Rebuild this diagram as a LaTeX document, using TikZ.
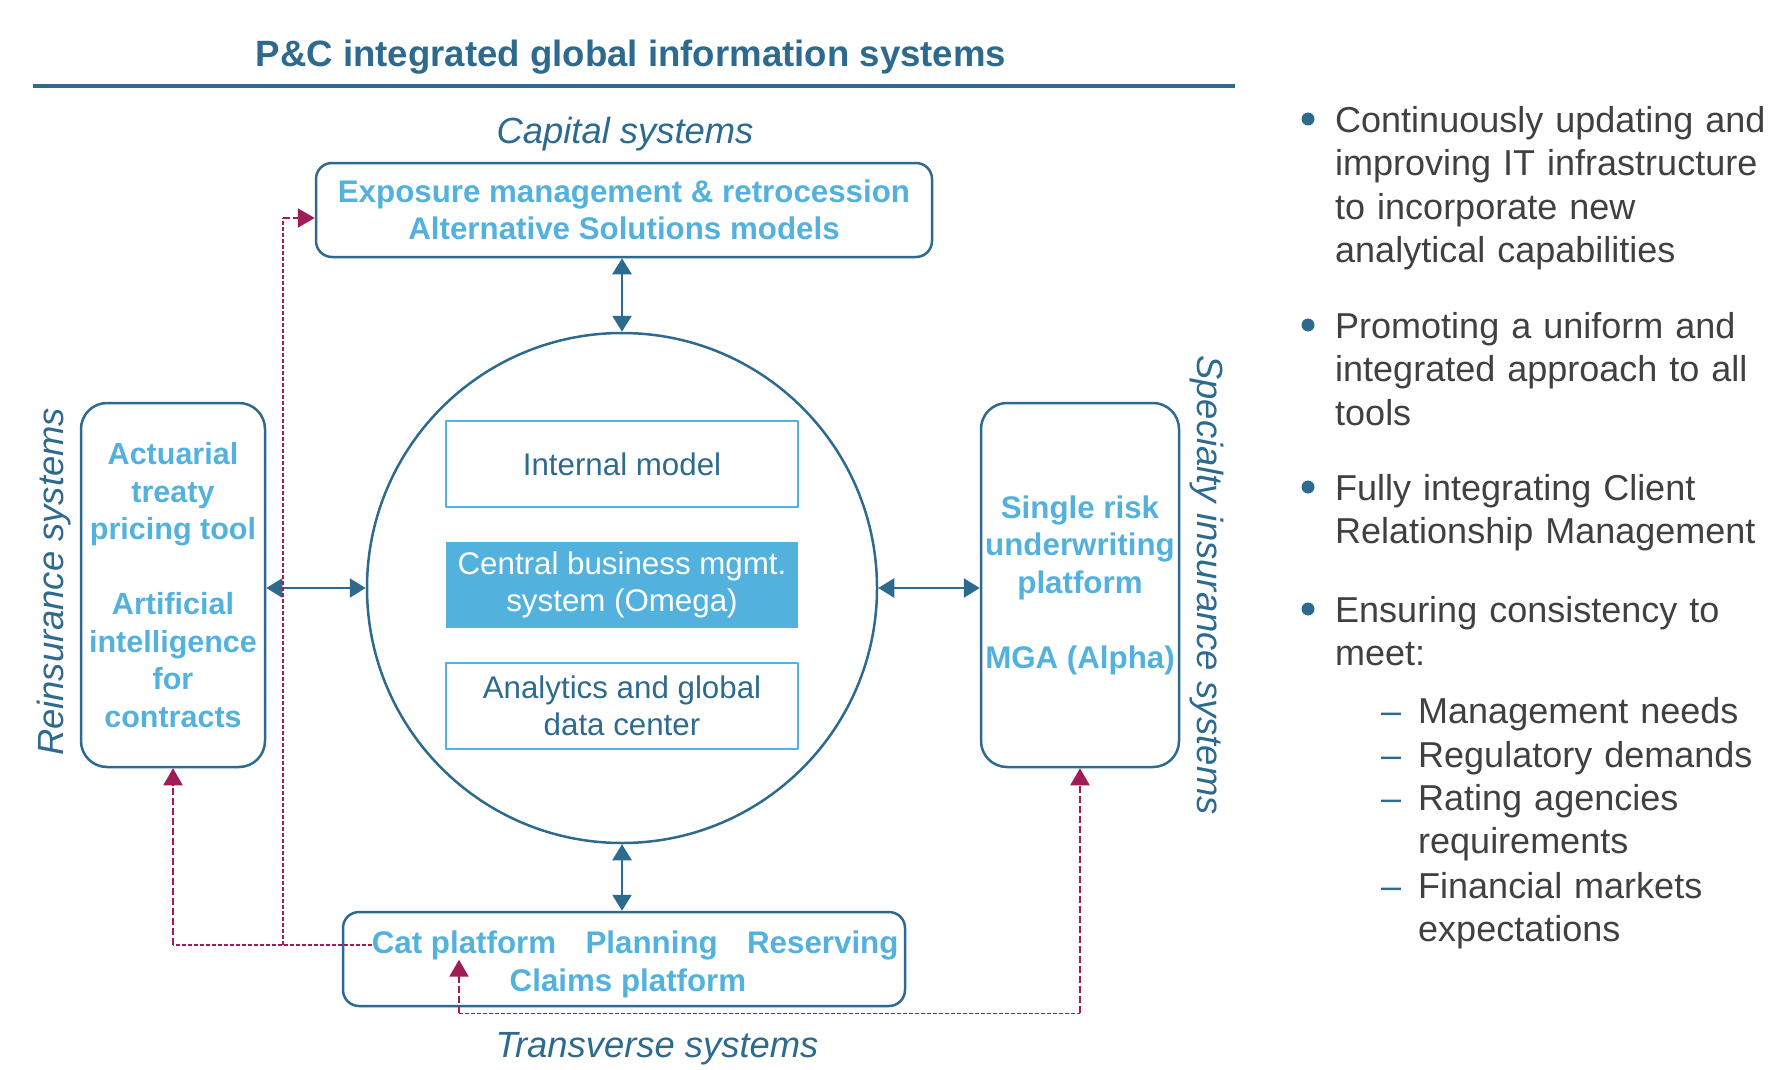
\documentclass[tikz,border=0pt]{standalone}
\usepackage{fontspec}
\setmainfont{Liberation Sans}
\usepackage{tikz}
\usetikzlibrary{arrows.meta, positioning}

\definecolor{PCteal}{RGB}{45,106,142}
\definecolor{PCsky}{RGB}{82,178,221}
\definecolor{PCgray}{RGB}{64,64,64}
\definecolor{PCred}{RGB}{160,28,86}

\tikzset{
  sysbox/.style={draw=PCteal, line width=2.5pt, rounded corners=16pt, inner sep=0pt},
  boxtext/.style={font=\bfseries\fontsize{31.3}{37.5}\selectfont, text=PCsky, align=center, inner sep=0pt},
  syslabel/.style={font=\itshape\fontsize{36.4}{44}\selectfont, text=PCteal, inner sep=0pt},
  modelbox/.style={draw=PCsky, line width=2pt, minimum width=352pt, minimum height=86pt, inner sep=0pt,
    outer sep=0pt, font=\fontsize{31.3}{37.5}\selectfont, text=PCteal, align=center},
  corebox/.style={modelbox, draw=none, fill=PCsky, text=white},
  duplex/.style={PCteal, line width=2.5pt, {Triangle[length=16pt,width=19pt]}-{Triangle[length=16pt,width=19pt]}},
  flowthick/.style={PCred, line width=2.2pt, dash pattern=on 7pt off 3pt, -{Triangle[length=17pt,width=19pt]}},
  flowthin/.style={PCred, line width=1.2pt, dash pattern=on 4pt off 2pt},
  item/.style={font=\fontsize{36}{43.6}\selectfont, text=PCgray, align=left, inner sep=0pt, text width=450pt},
  dot/.style={circle, fill=PCteal, inner sep=0pt, minimum size=13pt},
  subdash/.style={font=\fontsize{36}{43.6}\selectfont, text=PCteal, inner sep=0pt}
}

\begin{document}
\begin{tikzpicture}[x=1pt, y=-1pt, line join=bevel]
\useasboundingbox (0,0) rectangle (1788,1070);

% title
\node[font=\bfseries\fontsize{36.6}{44}\selectfont, text=PCteal, inner sep=0pt, anchor=base] (title) at (631,67) {P\&C integrated global information systems};
\draw[PCteal, line width=4pt] (33,86) -- (1235,86);

% systems
\node[syslabel, anchor=base] (caplabel) at (625,143) {Capital systems};
\node[sysbox, boxtext, minimum width=616pt, minimum height=94pt] (capbox) at (624,210)
  {Exposure management \& retrocession\\Alternative Solutions models};

\node[draw=PCteal, line width=2.5pt, circle, minimum size=510pt, inner sep=0pt] (hub) at (622,588) {};
\node[corebox] (core) at ([yshift=3pt]hub.center) {Central business mgmt.\\system (Omega)};
\node[modelbox, above=35pt of core] (intmodel) {Internal model};
\node[modelbox, below=35pt of core] (analytics) {Analytics and global\\data center};

\node[sysbox, boxtext, rounded corners=26pt, minimum width=184pt, minimum height=364pt,
  font=\bfseries\fontsize{30.5}{37.5}\selectfont] (rebox) at (173,585)
  {Actuarial\\treaty\\pricing tool\\[37.5pt]Artificial\\intelligence\\for\\contracts};
\node[syslabel, anchor=base, rotate=90] (relabel) at (63,582) {Reinsurance systems};

\node[sysbox, boxtext, rounded corners=26pt, minimum width=198pt, minimum height=364pt] (spbox) at (1080,585)
  {Single risk\\underwriting\\platform\\[37.5pt]MGA (Alpha)};
\node[syslabel, anchor=base, rotate=-90] (splabel) at (1197,585) {Specialty insurance systems};

\node[sysbox, minimum width=562pt, minimum height=94pt] (transbox) at (624,959) {};
\node[boxtext, anchor=base] (cat) at (464,953) {Cat platform};
\node[boxtext, base right=29pt of cat] (planning) {Planning};
\node[boxtext, base right=29pt of planning] (reserving) {Reserving};
\node[boxtext, anchor=base] (claims) at (628,991) {Claims platform};
\node[syslabel, anchor=base] (translabel) at (657,1057) {Transverse systems};

% links to the hub
\draw[duplex] (hub.north |- capbox.south) -- (hub.north);
\draw[duplex] (rebox.east |- hub.west) -- (hub.west);
\draw[duplex] (hub.east) -- (spbox.west |- hub.east);
\draw[duplex] (hub.south) -- (hub.south |- transbox.north);

% feeds from Cat platform
\coordinate (riser) at (283,218);
\coordinate (split) at (cat.west -| riser);
\coordinate (reknee) at (cat.west -| rebox.south);
\coordinate (catfoot) at ([xshift=-5pt]cat.south);
\coordinate (lowright) at ([yshift=-245pt]spbox.south);
\coordinate (lowleft) at (lowright -| catfoot);
\draw[flowthin] (cat.west) -- (reknee);
\draw[flowthick] (reknee) -- (rebox.south);
\draw[flowthin] (split) -- (riser);
\draw[flowthick] (riser) -- (riser -| capbox.west);
\draw[flowthick] (lowleft) -- (catfoot);
\draw[flowthin] (lowleft) -- (lowright);
\draw[flowthick] (lowright) -- (spbox.south);

% key points
\node[dot] (dot1) at (1308,119) {};
\node[item, anchor=base west] (item1) at (1335,132) {Continuously updating and\\improving IT infrastructure\\to incorporate new\\analytical capabilities};
\node[dot] (dot2) at (1308,325) {};
\node[item, anchor=base west] (item2) at (1335,338) {Promoting a uniform and\\integrated approach to all\\tools};
\node[dot] (dot3) at (1308,487) {};
\node[item, anchor=base west] (item3) at (1335,500) {Fully integrating Client\\Relationship Management};
\node[dot] (dot4) at (1308,609) {};
\node[item, anchor=base west] (item4) at (1335,622) {Ensuring consistency to\\meet:};

\node[subdash, anchor=base west] (dash1) at (1381,723) {–};
\node[item, anchor=base west] (sub1) at (1418,723) {Management needs};
\node[subdash, anchor=base west] (dash2) at (1381,767) {–};
\node[item, anchor=base west] (sub2) at (1418,767) {Regulatory demands};
\node[subdash, anchor=base west] (dash3) at (1381,810) {–};
\node[item, anchor=base west] (sub3) at (1418,810) {Rating agencies\\requirements};
\node[subdash, anchor=base west] (dash4) at (1381,898) {–};
\node[item, anchor=base west] (sub4) at (1418,898) {Financial markets\\expectations};
\end{tikzpicture}
\end{document}
